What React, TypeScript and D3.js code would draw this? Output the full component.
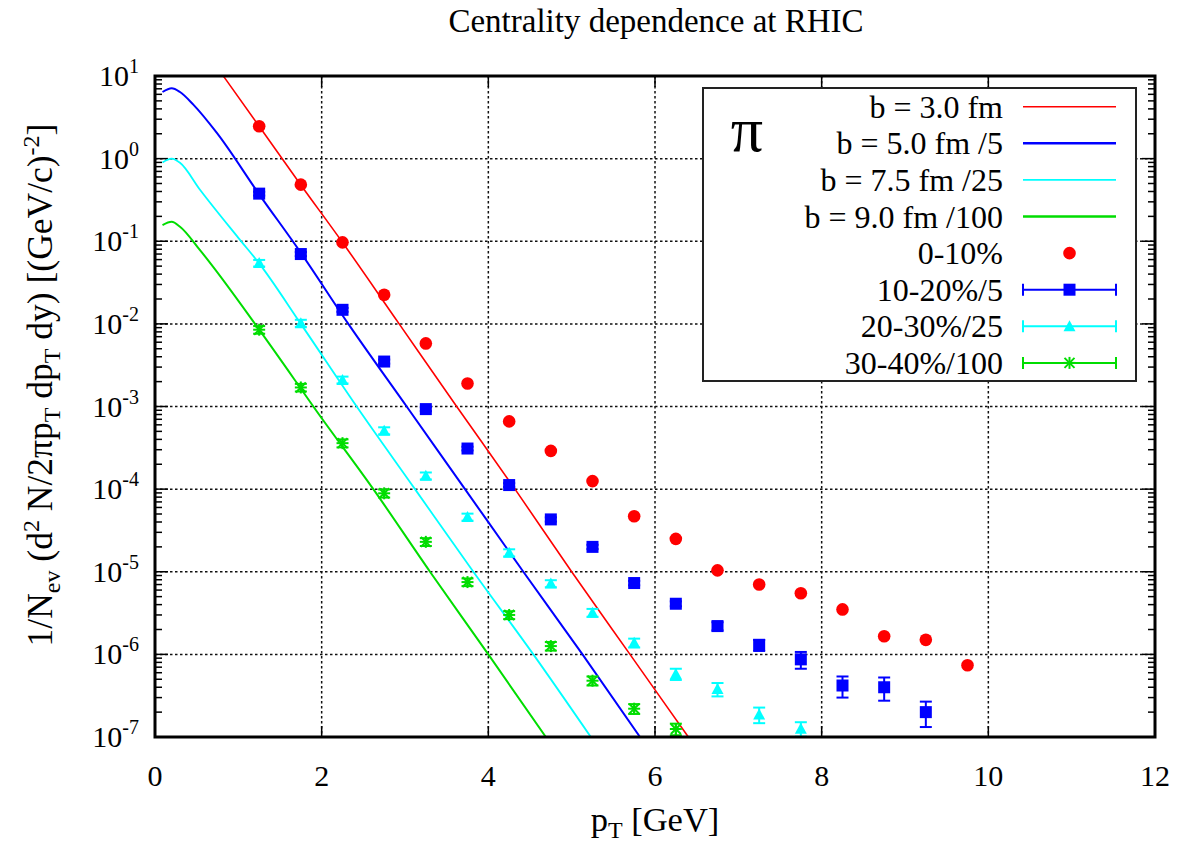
import React from "react";
import * as d3 from "d3";

// ---------- data ----------
const ptRed = [1.25, 1.75, 2.25, 2.75, 3.25, 3.75, 4.25, 4.75, 5.25, 5.75, 6.25, 6.75, 7.25, 7.75, 8.25, 8.75, 9.25, 9.75];
const red0_10 = [2.46, 0.484, 0.097, 0.0225, 0.0058, 0.0019, 6.6e-4, 2.9e-4, 1.25e-4, 4.7e-5, 2.5e-5, 1.04e-5, 7.0e-6, 5.5e-6, 3.5e-6, 1.66e-6, 1.5e-6, 7.4e-7];

const ptBlue = [1.25, 1.75, 2.25, 2.75, 3.25, 3.75, 4.25, 4.75, 5.25, 5.75, 6.25, 6.75, 7.25, 7.75, 8.25, 8.75, 9.25];
const blue10_20 = [0.377, 0.07, 0.0148, 0.0035, 9.3e-4, 3.1e-4, 1.12e-4, 4.3e-5, 2.0e-5, 7.3e-6, 4.1e-6, 2.2e-6, 1.3e-6, 8.7e-7, 4.2e-7, 4.0e-7, 2.0e-7];
const blueErr = [0.02, 0.004, 8e-4, 2e-4, 5e-5, 1.6e-5, 6e-6, 2.5e-6, 1.2e-6, 4.5e-7, 2.8e-7, 2.5e-7, 2.0e-7, 2.0e-7, 1.2e-7, 1.25e-7, 0.68e-7];

const ptCyan = [1.25, 1.75, 2.25, 2.75, 3.25, 3.75, 4.25, 4.75, 5.25, 5.75, 6.25, 6.75, 7.25, 7.75];
const cyan20_30 = [0.0544, 0.0102, 2.1e-3, 5.1e-4, 1.45e-4, 4.6e-5, 1.7e-5, 7.2e-6, 3.2e-6, 1.38e-6, 5.8e-7, 3.8e-7, 1.87e-7, 1.26e-7];
const cyanErr = [0.005, 0.001, 2e-4, 5e-5, 1.4e-5, 4.5e-6, 1.7e-6, 7e-7, 3.5e-7, 1.7e-7, 9e-8, 7e-8, 4e-8, 2.5e-8];

const ptGreen = [1.25, 1.75, 2.25, 2.75, 3.25, 3.75, 4.25, 4.75, 5.25, 5.75, 6.25];
const green30_40 = [0.0085, 1.7e-3, 3.6e-4, 8.9e-5, 2.3e-5, 7.5e-6, 3.0e-6, 1.26e-6, 4.8e-7, 2.2e-7, 1.25e-7];
const greenErr = [9e-4, 1.8e-4, 4e-5, 1e-5, 2.5e-6, 8e-7, 3.3e-7, 1.5e-7, 6e-8, 3e-8, 2e-8];

const redLinePt = [0.82, 1.25, 1.75, 2.24, 2.93, 3.62, 4.32, 5.0, 5.7, 6.4];
const redLineVal = [10, 2.46, 0.48, 0.1, 0.01, 1e-3, 1e-4, 1e-5, 1e-6, 1e-7];
const blueLinePt = [0.09, 0.2, 0.3, 0.46, 0.74, 1.25, 1.74, 2.32, 3.02, 3.72, 4.42, 5.13, 5.82];
const blueLineVal = [6.4, 7.1, 6.4, 4.5, 2.06, 0.37, 0.075, 0.01, 1e-3, 1e-4, 1e-5, 1e-6, 1e-7];
const cyanLinePt = [0.09, 0.2, 0.3, 0.54, 1.0, 1.25, 1.75, 2.42, 3.12, 3.82, 4.54, 5.23];
const cyanLineVal = [0.9, 1.0, 0.89, 0.42, 0.11, 0.054, 0.01, 1e-3, 1e-4, 1e-5, 1e-6, 1e-7];
const greenLinePt = [0.09, 0.2, 0.3, 0.54, 1.25, 1.74, 1.9, 2.62, 3.3, 4.0, 4.69];
const greenLineVal = [0.157, 0.172, 0.15, 0.078, 0.0085, 0.0017, 1e-3, 1e-4, 1e-5, 1e-6, 1e-7];

const xTicks = [0, 2, 4, 6, 8, 10, 12];
const yExps = [1, 0, -1, -2, -3, -4, -5, -6, -7];
const legendLabels = ["b = 3.0 fm", "b = 5.0 fm /5", "b = 7.5 fm /25", "b = 9.0 fm /100", "0-10%", "10-20%/5", "20-30%/25", "30-40%/100"];

const RED = "#ff0000";
const BLUE = "#0000ff";
const CYAN = "#00ffff";
const GREEN = "#00dd00";
const FONT = '"Liberation Serif", Tinos, "Times New Roman", Times, serif';

const W = 1189, H = 848;
const L = 155, R = 1155, T = 76, B = 737;

export default function App() {
  const x = d3.scaleLinear().domain([0, 12]).range([L, R]);
  const y = d3.scaleLog().domain([1e-7, 10]).range([B, T]);
  const line = d3.line<[number, number]>().x(d => x(d[0])).y(d => y(d[1])).curve(d3.curveMonotoneX);
  const zip = (a: number[], b: number[]) => a.map((v, i) => [v, b[i]] as [number, number]);

  const curves = [
    { pts: zip(redLinePt, redLineVal), color: RED, w: 1.6 },
    { pts: zip(blueLinePt, blueLineVal), color: BLUE, w: 2.0 },
    { pts: zip(cyanLinePt, cyanLineVal), color: CYAN, w: 1.8 },
    { pts: zip(greenLinePt, greenLineVal), color: GREEN, w: 2.0 },
  ];

  const minorTicks: number[] = [];
  for (let e = -7; e < 1; e++) for (let m = 2; m <= 9; m++) minorTicks.push(m * Math.pow(10, e));

  const errBar = (px: number, v: number, err: number, color: string, key: string) => {
    const y1 = y(Math.max(v - err, 1e-9));
    const y2 = y(v + err);
    return (
      <g key={key} stroke={color} strokeWidth={2}>
        <line x1={px} x2={px} y1={y1} y2={y2} />
        <line x1={px - 6} x2={px + 6} y1={y1} y2={y1} />
        <line x1={px - 6} x2={px + 6} y1={y2} y2={y2} />
      </g>
    );
  };
  const square = (px: number, py: number, color: string, key: string) => (
    <rect key={key} x={px - 6} y={py - 6} width={12} height={12} fill={color} />
  );
  const tri = (px: number, py: number, color: string, key: string) => (
    <path key={key} d={`M${px},${py - 6}L${px + 6},${py + 5}L${px - 6},${py + 5}Z`} fill={color} />
  );
  const star = (px: number, py: number, color: string, key: string) => (
    <g key={key} stroke={color} strokeWidth={2}>
      <line x1={px - 6} x2={px + 6} y1={py} y2={py} />
      <line x1={px} x2={px} y1={py - 6} y2={py + 6} />
      <line x1={px - 5} x2={px + 5} y1={py - 5} y2={py + 5} />
      <line x1={px - 5} x2={px + 5} y1={py + 5} y2={py - 5} />
    </g>
  );

  const legX0 = 1023, legX1 = 1116, legXm = 1069.5;
  const legY = (i: number) => 106.7 + i * 36.6;

  return (
    <svg width={W} height={H} style={{ position: "absolute", left: 0, top: 0, background: "#fff", fontFamily: FONT }}>
      <defs>
        <clipPath id="plotclip">
          <rect x={L} y={T} width={R - L} height={B - T} />
        </clipPath>
      </defs>
      <rect x={0} y={0} width={W} height={H} fill="#fff" />

      {/* title */}
      <text x={656} y={32} textAnchor="middle" fontSize={33} fill="#000">Centrality dependence at RHIC</text>

      {/* grid */}
      <g stroke="#111" strokeWidth={1.5} strokeDasharray="2.5,2.5">
        {xTicks.filter(t => t > 0 && t < 12).map(t => (
          <line key={"gx" + t} x1={x(t)} x2={x(t)} y1={T} y2={B} />
        ))}
        {yExps.filter(e => e > -7 && e < 1).map(e => (
          <line key={"gy" + e} x1={L} x2={R} y1={y(Math.pow(10, e))} y2={y(Math.pow(10, e))} />
        ))}
      </g>

      {/* ticks */}
      <g stroke="#000" strokeWidth={1.5}>
        {xTicks.map(t => (
          <g key={"xt" + t}>
            <line x1={x(t)} x2={x(t)} y1={B} y2={B - 11} />
            <line x1={x(t)} x2={x(t)} y1={T} y2={T + 11} />
          </g>
        ))}
        {yExps.map(e => (
          <g key={"yt" + e}>
            <line x1={L} x2={L + 13} y1={y(Math.pow(10, e))} y2={y(Math.pow(10, e))} />
            <line x1={R} x2={R - 13} y1={y(Math.pow(10, e))} y2={y(Math.pow(10, e))} />
          </g>
        ))}
        {minorTicks.map((v, i) => (
          <g key={"ym" + i}>
            <line x1={L} x2={L + 7} y1={y(v)} y2={y(v)} />
            <line x1={R} x2={R - 7} y1={y(v)} y2={y(v)} />
          </g>
        ))}
      </g>

      {/* curves */}
      <g clipPath="url(#plotclip)">
        {curves.map((c, i) => (
          <path key={"c" + i} d={line(c.pts) || ""} fill="none" stroke={c.color} strokeWidth={c.w} />
        ))}

        {/* data */}
        {ptBlue.map((p, i) => errBar(x(p), blue10_20[i], blueErr[i], BLUE, "be" + i))}
        {ptBlue.map((p, i) => square(x(p), y(blue10_20[i]), BLUE, "bs" + i))}
        {ptCyan.map((p, i) => errBar(x(p), cyan20_30[i], cyanErr[i], CYAN, "ce" + i))}
        {ptCyan.map((p, i) => tri(x(p), y(cyan20_30[i]), CYAN, "ct" + i))}
        {ptGreen.map((p, i) => errBar(x(p), green30_40[i], greenErr[i], GREEN, "ge" + i))}
        {ptGreen.map((p, i) => star(x(p), y(green30_40[i]), GREEN, "gs" + i))}
        {ptRed.map((p, i) => (
          <circle key={"r" + i} cx={x(p)} cy={y(red0_10[i])} r={6.3} fill={RED} />
        ))}
      </g>

      {/* frame */}
      <rect x={L} y={T} width={R - L} height={B - T} fill="none" stroke="#000" strokeWidth={3} />

      {/* x tick labels */}
      {xTicks.map(t => (
        <text key={"xl" + t} x={x(t)} y={786} textAnchor="middle" fontSize={30} fill="#000">{t}</text>
      ))}
      {/* y tick labels */}
      {yExps.map(e => (
        <text key={"yl" + e} x={139} y={y(Math.pow(10, e)) + 10} textAnchor="end" fontSize={30} fill="#000">
          <tspan>10</tspan>
          <tspan dy={-13} fontSize={20}>{String(e)}</tspan>
        </text>
      ))}

      {/* axis labels */}
      <text x={655} y={831} textAnchor="middle" fontSize={34.5} fill="#000">
        <tspan>p</tspan>
        <tspan dy={7} fontSize={24}>T</tspan>
        <tspan dy={-7}> [GeV]</tspan>
      </text>
      <text transform="translate(52,385) rotate(-90)" textAnchor="middle" fontSize={35.5} fill="#000">
        <tspan>1/N</tspan>
        <tspan dy={8} fontSize={24}>ev</tspan>
        <tspan dy={-8}> (d</tspan>
        <tspan dy={-13} fontSize={24}>2</tspan>
        <tspan dy={13}> N/2πp</tspan>
        <tspan dy={8} fontSize={24}>T</tspan>
        <tspan dy={-8}> dp</tspan>
        <tspan dy={8} fontSize={24}>T</tspan>
        <tspan dy={-8}> dy) [(GeV/c)</tspan>
        <tspan dy={-13} fontSize={24}>-2</tspan>
        <tspan dy={13}>]</tspan>
      </text>

      {/* legend */}
      <rect x={703} y={88} width={433} height={293} fill="#fff" stroke="#222" strokeWidth={2} />
      <text x={747} y={151} textAnchor="middle" fontSize={64} fill="#000">π</text>
      {legendLabels.map((lab, i) => (
        <text key={"lg" + i} x={1003} y={legY(i) + 11} textAnchor="end" fontSize={32} fill="#000">{lab}</text>
      ))}
      <line x1={legX0} x2={legX1} y1={legY(0)} y2={legY(0)} stroke={RED} strokeWidth={1.6} />
      <line x1={legX0} x2={legX1} y1={legY(1)} y2={legY(1)} stroke={BLUE} strokeWidth={2.4} />
      <line x1={legX0} x2={legX1} y1={legY(2)} y2={legY(2)} stroke={CYAN} strokeWidth={1.8} />
      <line x1={legX0} x2={legX1} y1={legY(3)} y2={legY(3)} stroke={GREEN} strokeWidth={2.4} />
      <circle cx={legXm} cy={legY(4)} r={6.3} fill={RED} />
      {[{ c: BLUE, i: 5 }, { c: CYAN, i: 6 }, { c: GREEN, i: 7 }].map(({ c, i }) => (
        <g key={"le" + i} stroke={c} strokeWidth={2}>
          <line x1={legX0} x2={legX1} y1={legY(i)} y2={legY(i)} />
          <line x1={legX0} x2={legX0} y1={legY(i) - 6} y2={legY(i) + 6} />
          <line x1={legX1} x2={legX1} y1={legY(i) - 6} y2={legY(i) + 6} />
        </g>
      ))}
      {square(legXm, legY(5), BLUE, "lsq")}
      {tri(legXm, legY(6), CYAN, "ltr")}
      {star(legXm, legY(7), GREEN, "lst")}
    </svg>
  );
}
